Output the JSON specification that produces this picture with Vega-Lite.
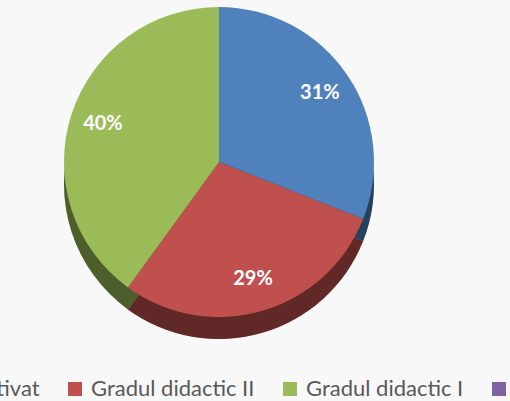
{
  "$schema": "https://vega.github.io/schema/vega-lite/v6.json",
  "width": 438,
  "height": 324,
  "autosize": {"type": "none"},
  "padding": {"left": 0, "top": 0, "right": 72, "bottom": 77},
  "background": "#f8f8f8",
  "view": {"stroke": null},
  "data": {
    "values": [
      {"idx": 1, "category": "Definitivat", "value": 0.31},
      {"idx": 2, "category": "Gradul didactic II", "value": 0.29},
      {"idx": 3, "category": "Gradul didactic I", "value": 0.40},
      {"idx": 4, "category": "Doctorat", "value": 0}
    ]
  },
  "encoding": {
    "theta": {"field": "value", "type": "quantitative", "stack": true},
    "order": {"field": "idx", "type": "quantitative"},
    "color": {
      "field": "category",
      "type": "nominal",
      "scale": {
        "domain": ["Definitivat", "Gradul didactic II", "Gradul didactic I", "Doctorat"],
        "range": ["#4F81BD", "#C0504D", "#9BBB59", "#8064A2"]
      },
      "legend": {
        "title": null,
        "orient": "none",
        "legendX": -89,
        "legendY": 378,
        "direction": "horizontal",
        "columns": 4,
        "gridAlign": "none",
        "columnPadding": 24,
        "labelOffset": 5,
        "labelFont": "Lato",
        "labelFontSize": 22,
        "labelColor": "#595959",
        "labelLimit": 400,
        "symbolType": "square",
        "symbolSize": 196,
        "symbolStrokeWidth": 0,
        "symbolOpacity": 1
      }
    }
  },
  "layer": [
    {"mark": {"type": "arc", "radius": 155, "yOffset": 22}},
    {"mark": {"type": "arc", "radius": 155, "yOffset": 22, "opacity": 0.5, "color": "#000"}, "encoding": {"color": {"value": "#000000"}}},
    {"mark": {"type": "arc", "radius": 155}},
    {
      "transform": [{"filter": "datum.value > 0"}],
      "mark": {"type": "text", "radius": 122, "font": "Lato", "fontWeight": "bold", "fontSize": 20},
      "encoding": {
        "text": {"field": "value", "type": "quantitative", "format": ".0%"},
        "color": {"value": "#ffffff"}
      }
    }
  ]
}
